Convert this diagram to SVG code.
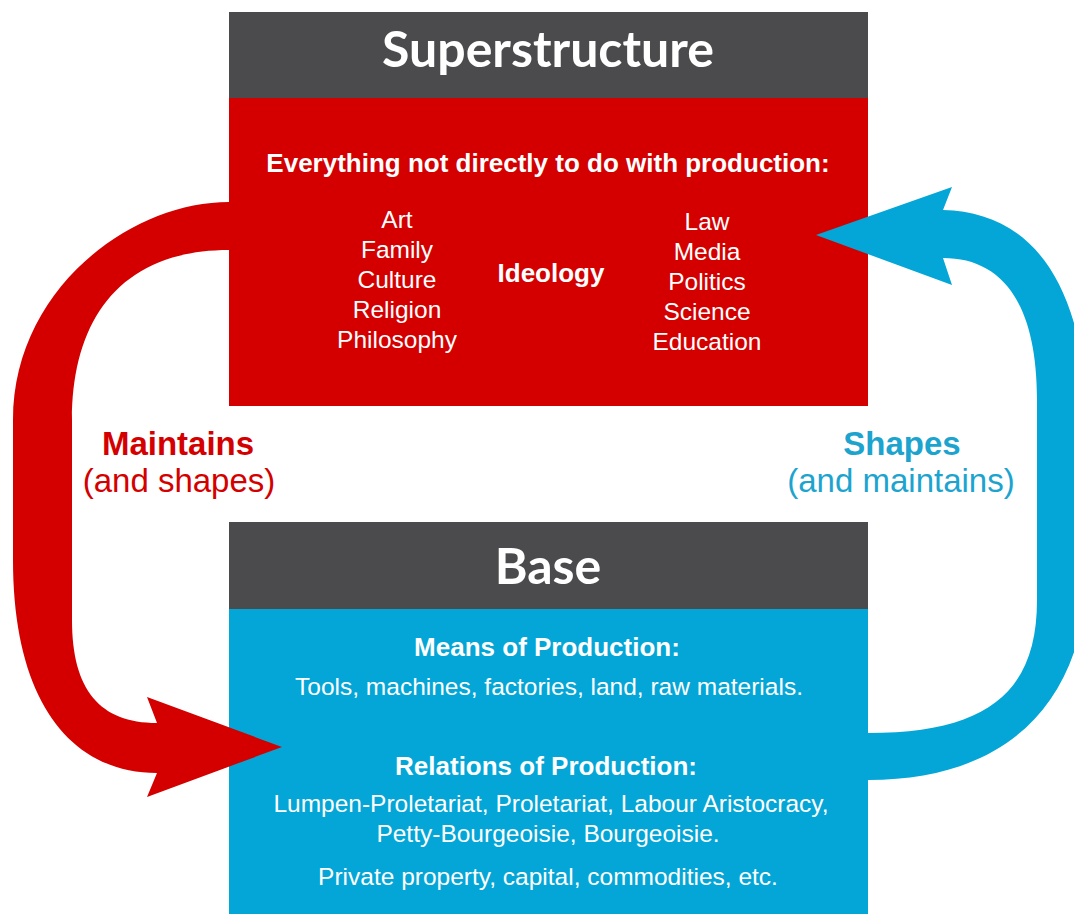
<svg xmlns="http://www.w3.org/2000/svg" width="1074" height="914" viewBox="0 0 1074 914">
  <style>
    .hdr { fill: #4b4b4d; }
    .title { font-family: Lato, "Open Sans", sans-serif; font-weight: 700; font-size: 50px; fill: #ffffff; text-anchor: middle; }
    .b { font-family: "Liberation Sans", Arial, sans-serif; font-weight: 700; font-size: 26px; fill: #ffffff; text-anchor: middle; }
    .r { font-family: "Liberation Sans", Arial, sans-serif; font-size: 24.5px; fill: #ffffff; text-anchor: middle; }
    .s { font-family: "Liberation Sans", Arial, sans-serif; font-size: 24.5px; fill: #ffffff; text-anchor: middle; }
    .lblb { font-family: "Liberation Sans", Arial, sans-serif; font-weight: 700; font-size: 33px; text-anchor: middle; }
    .lblr { font-family: "Liberation Sans", Arial, sans-serif; font-size: 33px; text-anchor: middle; }
    .red { fill: #d40000; }
    .blue { fill: #03a6d6; }
  </style>
  <rect width="1074" height="914" fill="#ffffff"/>
  <g id="superstructure">
    <rect x="229" y="98" width="639" height="308" fill="#d40000"/>
    <rect class="hdr" x="229" y="12" width="639" height="86"/>
    <text class="title" x="548" y="67">Superstructure</text>
    <text class="b" x="548" y="172">Everything not directly to do with production:</text>
    <text class="r" x="397" y="228">Art</text>
    <text class="r" x="397" y="258">Family</text>
    <text class="r" x="397" y="288">Culture</text>
    <text class="r" x="397" y="318">Religion</text>
    <text class="r" x="397" y="348">Philosophy</text>
    <text class="b" x="551" y="282">Ideology</text>
    <text class="r" x="707" y="230">Law</text>
    <text class="r" x="707" y="260">Media</text>
    <text class="r" x="707" y="290">Politics</text>
    <text class="r" x="707" y="320">Science</text>
    <text class="r" x="707" y="350">Education</text>
  </g>
  <g id="base">
    <rect x="229" y="609" width="639" height="305" fill="#03a6d6"/>
    <rect class="hdr" x="229" y="522" width="639" height="87"/>
    <text class="title" x="548" y="584">Base</text>
    <text class="b" x="547" y="656">Means of Production:</text>
    <text class="s" x="549" y="695">Tools, machines, factories, land, raw materials.</text>
    <text class="b" x="546" y="775">Relations of Production:</text>
    <text class="s" x="551" y="812">Lumpen-Proletariat, Proletariat, Labour Aristocracy,</text>
    <text class="s" x="548" y="842">Petty-Bourgeoisie, Bourgeoisie.</text>
    <text class="s" x="548" y="885">Private property, capital, commodities, etc.</text>
  </g>
  <g id="connectors">
    <path id="maintains-arrow" class="red" d="M 235 202 L 229 202 C 130 202, 13 290, 13 420 L 13 560 C 13 700, 70 773, 157 773 L 147 797 L 282 747 L 147 697 L 157 723 C 100 723, 72 690, 72 620 L 72 420 C 72 320, 120 250, 229 250 L 235 250 Z"/>
    <path id="shapes-arrow" class="blue" d="M 816 235 L 952 187 L 943 210 C 1030 212, 1088 280, 1088 440 L 1088 560 C 1088 700, 1010 780, 868 780 L 860 780 L 860 733 L 868 733 C 990 733, 1037 690, 1037 600 L 1037 400 C 1037 300, 1000 258, 943 258 L 952 285 Z"/>
    <text class="lblb" x="178" y="455" fill="#d40000">Maintains</text>
    <text class="lblr" x="179" y="492" fill="#d40000">(and shapes)</text>
    <text class="lblb" x="902" y="455" fill="#1ca4cf">Shapes</text>
    <text class="lblr" x="901" y="492" fill="#1ca4cf">(and maintains)</text>
  </g>
</svg>
